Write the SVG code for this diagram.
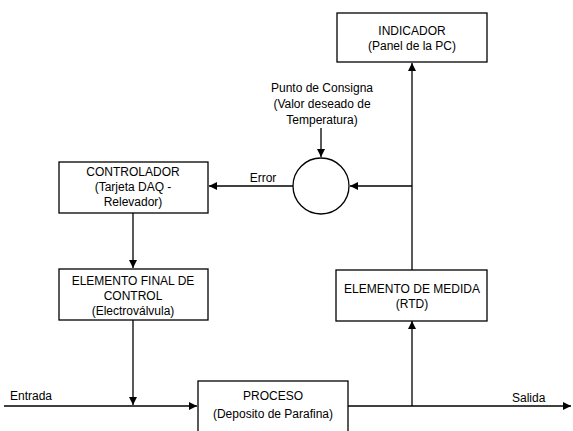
<svg xmlns="http://www.w3.org/2000/svg" width="573" height="431" viewBox="0 0 573 431">
<defs>
<marker id="ah" viewBox="0 0 10 10" refX="10" refY="5" markerWidth="8" markerHeight="8" markerUnits="userSpaceOnUse" orient="auto">
<path d="M0,0 L10,5 L0,10 Z" fill="#000"/>
</marker>
</defs>
<style>
.box{fill:#fff;stroke:#000;stroke-width:1.3}
.t{font-family:"Liberation Sans",Arial,sans-serif;font-size:12px;fill:#000;text-anchor:middle}
.c{fill:none;stroke:#000;stroke-width:1.3}
</style>
<rect width="573" height="431" fill="#fff"/>
<g id="connectors">
<line class="c" x1="4" y1="406" x2="197" y2="406" marker-end="url(#ah)"/>
<line class="c" x1="348" y1="406" x2="571" y2="406" marker-end="url(#ah)"/>
<line class="c" x1="133" y1="320" x2="133" y2="405" marker-end="url(#ah)"/>
<line class="c" x1="133" y1="213" x2="133" y2="268" marker-end="url(#ah)"/>
<line class="c" x1="293" y1="186" x2="209" y2="186" marker-end="url(#ah)"/>
<line class="c" x1="412" y1="406" x2="412" y2="321" marker-end="url(#ah)"/>
<line class="c" x1="412" y1="270" x2="412" y2="63" marker-end="url(#ah)"/>
<line class="c" x1="412" y1="186" x2="350" y2="186" marker-end="url(#ah)"/>
<line class="c" x1="321" y1="128" x2="321" y2="157" marker-end="url(#ah)"/>
<text class="t" x="263" y="182">Error</text>
<text class="t" x="10" y="400" style="text-anchor:start">Entrada</text>
<text class="t" x="512" y="402" style="text-anchor:start">Salida</text>
</g>
<g id="indicador">
<rect class="box" x="337" y="13" width="150" height="49"/>
<text class="t" x="412" y="35">INDICADOR</text>
<text class="t" x="412" y="50">(Panel de la PC)</text>
</g>
<g id="consigna">
<text class="t" x="322" y="92">Punto de Consigna</text>
<text class="t" x="322" y="108">(Valor deseado de</text>
<text class="t" x="322" y="124">Temperatura)</text>
</g>
<g id="comparador">
<circle cx="321" cy="186" r="28" fill="#fff" stroke="#000" stroke-width="1.3"/>
</g>
<g id="controlador">
<rect class="box" x="59" y="162" width="149" height="51"/>
<text class="t" x="133" y="176">CONTROLADOR</text>
<text class="t" x="133" y="191">(Tarjeta DAQ -</text>
<text class="t" x="133" y="206">Relevador)</text>
</g>
<g id="elemento-final">
<rect class="box" x="59" y="269" width="149" height="51"/>
<text class="t" x="133" y="285">ELEMENTO FINAL DE</text>
<text class="t" x="133" y="300">CONTROL</text>
<text class="t" x="133" y="315">(Electroválvula)</text>
</g>
<g id="elemento-medida">
<rect class="box" x="336" y="270" width="151" height="51"/>
<text class="t" x="412" y="293">ELEMENTO DE MEDIDA</text>
<text class="t" x="412" y="308">(RTD)</text>
</g>
<g id="proceso">
<rect class="box" x="198" y="381" width="150" height="60"/>
<text class="t" x="273" y="400">PROCESO</text>
<text class="t" x="273" y="418">(Deposito de Parafina)</text>
</g>
</svg>
